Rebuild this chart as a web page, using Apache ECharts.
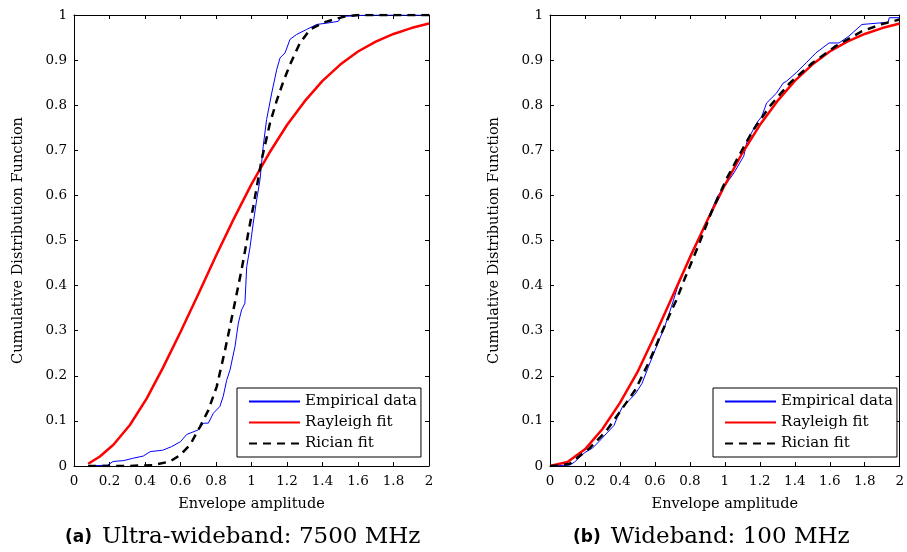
<!DOCTYPE html>
<html>
<head>
<meta charset="utf-8">
<script src="https://cdn.jsdelivr.net/npm/echarts@6/dist/echarts.min.js"></script>
<style>
html,body{margin:0;padding:0;background:#fff;}
#main{width:907px;height:552px;}
</style>
</head>
<body>
<div id="main"></div>
<script>
// ---- data ----
const seriesNames = ['Empirical data', 'Rayleigh fit', 'Rician fit'];
const xTicks = [0, 0.2, 0.4, 0.6, 0.8, 1, 1.2, 1.4, 1.6, 1.8, 2];
const yTicks = [0, 0.1, 0.2, 0.3, 0.4, 0.5, 0.6, 0.7, 0.8, 0.9, 1];
const captionA = ['(a)', 'Ultra-wideband: 7500 MHz'];
const captionB = ['(b)', 'Wideband: 100 MHz'];
const xName = 'Envelope amplitude';
const yName = 'Cumulative Distribution Function';

// (a) Ultra-wideband
const uwbEmpirical = [[0.08,0],[0.19,0.002],[0.22,0.01],[0.28,0.012],[0.33,0.017],[0.39,0.022],[0.43,0.032],[0.5,0.035],[0.55,0.043],[0.6,0.054],[0.635,0.07],[0.7,0.08],[0.73,0.095],[0.757,0.095],[0.785,0.117],[0.822,0.132],[0.841,0.155],[0.86,0.19],[0.879,0.213],[0.907,0.265],[0.926,0.317],[0.944,0.346],[0.963,0.361],[0.973,0.442],[0.992,0.486],[1.01,0.539],[1.029,0.59],[1.048,0.635],[1.066,0.709],[1.085,0.768],[1.114,0.827],[1.142,0.879],[1.161,0.905],[1.189,0.916],[1.217,0.946],[1.255,0.957],[1.311,0.968],[1.367,0.979],[1.442,0.983],[1.489,0.986],[1.508,0.997],[1.58,0.998],[1.65,1],[2,1]];
const uwbRayleigh = [[0.08,0.005],[0.146,0.021],[0.222,0.047],[0.315,0.091],[0.41,0.15],[0.5,0.217],[0.6,0.297],[0.7,0.381],[0.8,0.466],[0.9,0.548],[1.0,0.625],[1.1,0.694],[1.2,0.756],[1.3,0.809],[1.4,0.854],[1.5,0.89],[1.6,0.919],[1.7,0.941],[1.8,0.958],[1.9,0.971],[2.0,0.981]];
const uwbRician = [[0.08,0],[0.3,0],[0.447,0.002],[0.541,0.01],[0.597,0.024],[0.654,0.047],[0.71,0.087],[0.757,0.124],[0.804,0.176],[0.851,0.257],[0.898,0.346],[0.944,0.435],[0.982,0.517],[1.01,0.575],[1.057,0.679],[1.104,0.76],[1.142,0.81],[1.179,0.852],[1.217,0.89],[1.273,0.938],[1.33,0.968],[1.405,0.983],[1.461,0.99],[1.53,0.997],[1.6,1],[2,1]];

// (b) Wideband
const wbEmpirical = [[0,0],[0.113,0.002],[0.141,0.009],[0.2,0.03],[0.244,0.04],[0.282,0.055],[0.33,0.075],[0.366,0.09],[0.385,0.108],[0.413,0.13],[0.451,0.145],[0.488,0.16],[0.526,0.183],[0.563,0.22],[0.601,0.257],[0.657,0.31],[0.695,0.354],[0.732,0.4],[0.808,0.472],[0.883,0.531],[0.958,0.598],[1.052,0.65],[1.108,0.687],[1.127,0.72],[1.183,0.761],[1.211,0.775],[1.239,0.805],[1.296,0.827],[1.333,0.849],[1.352,0.853],[1.408,0.872],[1.465,0.894],[1.521,0.916],[1.596,0.938],[1.653,0.938],[1.709,0.953],[1.784,0.979],[1.934,0.984],[1.94,0.994],[2,0.994]];
const wbRayleigh = [[0,0],[0.1,0.009],[0.2,0.037],[0.3,0.082],[0.4,0.14],[0.5,0.208],[0.6,0.29],[0.7,0.376],[0.8,0.462],[0.9,0.545],[1.0,0.623],[1.1,0.694],[1.2,0.756],[1.3,0.809],[1.4,0.854],[1.5,0.89],[1.6,0.919],[1.7,0.941],[1.8,0.958],[1.9,0.971],[2.0,0.981]];
const wbRician = [[0,0],[0.05,0.001],[0.113,0.005],[0.225,0.039],[0.319,0.076],[0.394,0.117],[0.488,0.169],[0.563,0.228],[0.638,0.295],[0.695,0.345],[0.723,0.368],[0.77,0.415],[0.845,0.485],[0.92,0.56],[1.014,0.64],[1.089,0.694],[1.164,0.746],[1.258,0.798],[1.371,0.849],[1.502,0.894],[1.634,0.931],[1.784,0.964],[1.9,0.98],[2,0.99]];

// ---- chart ----
const chart = echarts.init(document.getElementById('main'), null, {renderer: 'canvas'});
const serif = 'DejaVu Serif';
const tickFont = {fontFamily: serif, fontSize: 13.5, color: '#000'};

function mkX(gridIndex, pos, labels) {
  return {
    type: 'value', gridIndex: gridIndex, position: pos,
    min: xTicks[0], max: xTicks[xTicks.length - 1], interval: xTicks[1] - xTicks[0],
    splitLine: {show: false},
    axisLine: {show: true, onZero: false, lineStyle: {color: '#000', width: 1}},
    axisTick: {show: true, inside: true, length: 4, lineStyle: {color: '#000'}},
    axisLabel: Object.assign({show: labels, margin: 8}, tickFont),
    name: labels ? xName : '', nameLocation: 'middle', nameGap: 31,
    nameTextStyle: {fontFamily: serif, fontSize: 14.5, color: '#000'}
  };
}
function mkY(gridIndex, pos, labels) {
  return {
    type: 'value', gridIndex: gridIndex, position: pos,
    min: yTicks[0], max: yTicks[yTicks.length - 1], interval: yTicks[1] - yTicks[0],
    splitLine: {show: false},
    axisLine: {show: true, onZero: false, lineStyle: {color: '#000', width: 1}},
    axisTick: {show: true, inside: true, length: 4, lineStyle: {color: '#000'}},
    axisLabel: Object.assign({show: labels, margin: 7}, tickFont),
    name: labels ? yName : '', nameLocation: 'middle', nameGap: 48,
    nameTextStyle: {fontFamily: serif, fontSize: 14.5, color: '#000'}
  };
}
function mkLegend(left) {
  return {
    show: true, orient: 'vertical', left: left, top: 388,
    data: seriesNames, itemWidth: 51, itemHeight: 14, itemGap: 6,
    padding: [6, 4, 6, 11], borderColor: '#000', borderWidth: 1, borderRadius: 0,
    backgroundColor: '#fff', selectedMode: false,
    itemStyle: {opacity: 0, borderWidth: 0},
    textStyle: {fontFamily: serif, fontSize: 15, color: '#000'}
  };
}
const styles = [
  {color: '#0000ff', width: 1, type: 'solid'},
  {color: '#ff0000', width: 2.5, type: 'solid'},
  {color: '#000000', width: 2.5, type: [8, 6]}
];
function mkSeries(name, data, axisIndex, st) {
  return {
    type: 'line', name: name, data: data, xAxisIndex: axisIndex, yAxisIndex: axisIndex,
    symbol: 'none', showSymbol: false, smooth: false, clip: true,
    itemStyle: {color: st.color},
    lineStyle: {color: st.color, width: st.width, type: st.type}
  };
}
function caption(c) {
  return '{b|' + c[0] + '}{r|' + c[1] + '}';
}
const captionRich = {
  b: {fontFamily: 'DejaVu Sans', fontWeight: 'bold', fontSize: 17, color: '#000', padding: [0, 10, 0, 0]},
  r: {fontFamily: serif, fontWeight: 'normal', fontSize: 23, color: '#000'}
};

chart.setOption({
  animation: false,
  backgroundColor: '#fff',
  title: [
    {text: caption(captionA), left: 65, top: 526, textStyle: {fontWeight: 'normal', rich: captionRich}, padding: 0},
    {text: caption(captionB), left: 573, top: 526, textStyle: {fontWeight: 'normal', rich: captionRich}, padding: 0}
  ],
  grid: [
    {left: 74, top: 15, width: 355, height: 451, containLabel: false},
    {left: 550, top: 15, width: 355, height: 451, containLabel: false}
  ],
  xAxis: [mkX(0, 'bottom', true), mkX(0, 'top', false), mkX(1, 'bottom', true), mkX(1, 'top', false)],
  yAxis: [mkY(0, 'left', true), mkY(0, 'right', false), mkY(1, 'left', true), mkY(1, 'right', false)],
  legend: [mkLegend(237), mkLegend(713)],
  series: [
    mkSeries(seriesNames[0], uwbEmpirical, 0, styles[0]),
    mkSeries(seriesNames[1], uwbRayleigh, 0, styles[1]),
    mkSeries(seriesNames[2], uwbRician, 0, styles[2]),
    mkSeries(seriesNames[0], wbEmpirical, 2, styles[0]),
    mkSeries(seriesNames[1], wbRayleigh, 2, styles[1]),
    mkSeries(seriesNames[2], wbRician, 2, styles[2])
  ]
});
</script>
</body>
</html>
